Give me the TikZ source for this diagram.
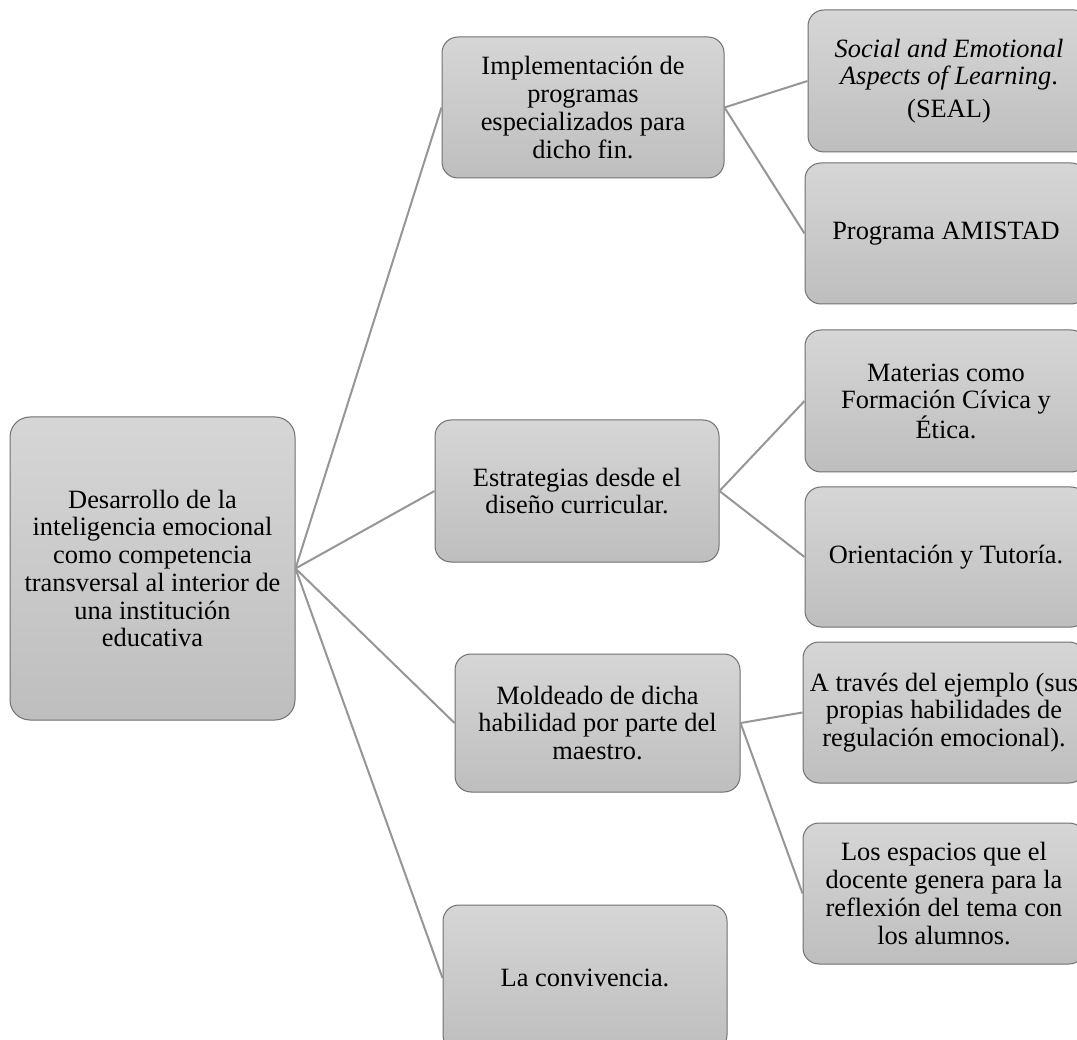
\documentclass[tikz,border=0pt]{standalone}
\usepackage{fontspec}
\setmainfont{Liberation Serif}
\definecolor{boxtop}{RGB}{214,214,214}
\definecolor{boxbot}{RGB}{190,190,190}
\definecolor{boxline}{RGB}{112,112,112}
\definecolor{conn}{RGB}{150,150,150}
\tikzset{
  gbox/.style={draw=boxline, line width=1pt, rounded corners=16pt,
    top color=boxtop, bottom color=boxbot, align=center,
    inner sep=0pt, font=\fontsize{26.4}{27.7}\selectfont},
  link/.style={draw=conn, line width=2pt}
}
\begin{document}
\begin{tikzpicture}[x=1pt,y=-1pt]
\useasboundingbox (0,0) rectangle (1077,1040);
\clip (0,0) rectangle (1077,1040);
\fill[white] (0,0) rectangle (1077,1040);
% root
\node[gbox, rounded corners=20pt, minimum width=285pt, minimum height=303pt] (root) at (152.5,568.5)
  {Desarrollo de la\\inteligencia emocional\\como competencia\\transversal al interior de\\una institución\\educativa};
% level 1
\node[gbox, minimum width=282pt, minimum height=141pt] (impl) at (583,107.5)
  {Implementación de\\programas\\especializados para\\dicho fin.};
\node[gbox, minimum width=284pt, minimum height=142pt] (estr) at (577,491)
  {Estrategias desde el\\diseño curricular.};
\node[gbox, minimum width=285pt, minimum height=138pt] (mold) at (597.5,723)
  {Moldeado de dicha\\habilidad por parte del\\maestro.};
\node[gbox, minimum width=284pt, minimum height=146pt] (conv) at (585,978)
  {La convivencia.};
% level 2
\node[gbox, minimum width=282pt, minimum height=142pt] (seal) at (949,81)
  {\itshape Social and Emotional\\\itshape Aspects of Learning\upshape.\\[5pt](SEAL)};
\node[gbox, minimum width=282pt, minimum height=141pt] (amis) at (946,233.5)
  {Programa AMISTAD};
\node[gbox, minimum width=282pt, minimum height=142pt] (mat) at (946,401)
  {Materias como\\Formación Cívica y\\Ética.};
\node[gbox, minimum width=282pt, minimum height=140pt] (ori) at (946,557)
  {Orientación y Tutoría.};
\node[gbox, minimum width=282pt, minimum height=141pt] (atra) at (944,712.5)
  {A través del ejemplo (sus\\propias habilidades de\\regulación emocional).};
\node[gbox, minimum width=282pt, minimum height=141pt] (esp) at (944,893.5)
  {Los espacios que el\\docente genera para la\\reflexión del tema con\\los alumnos.};
% connectors
\draw[link] (root.east) -- (impl.west);
\draw[link] (root.east) -- (estr.west);
\draw[link] (root.east) -- (mold.west);
\draw[link] (root.east) -- (conv.west);
\draw[link] (impl.east) -- (seal.west);
\draw[link] (impl.east) -- (amis.west);
\draw[link] (estr.east) -- (mat.west);
\draw[link] (estr.east) -- (ori.west);
\draw[link] (mold.east) -- (atra.west);
\draw[link] (mold.east) -- (esp.west);
\end{tikzpicture}
\end{document}
